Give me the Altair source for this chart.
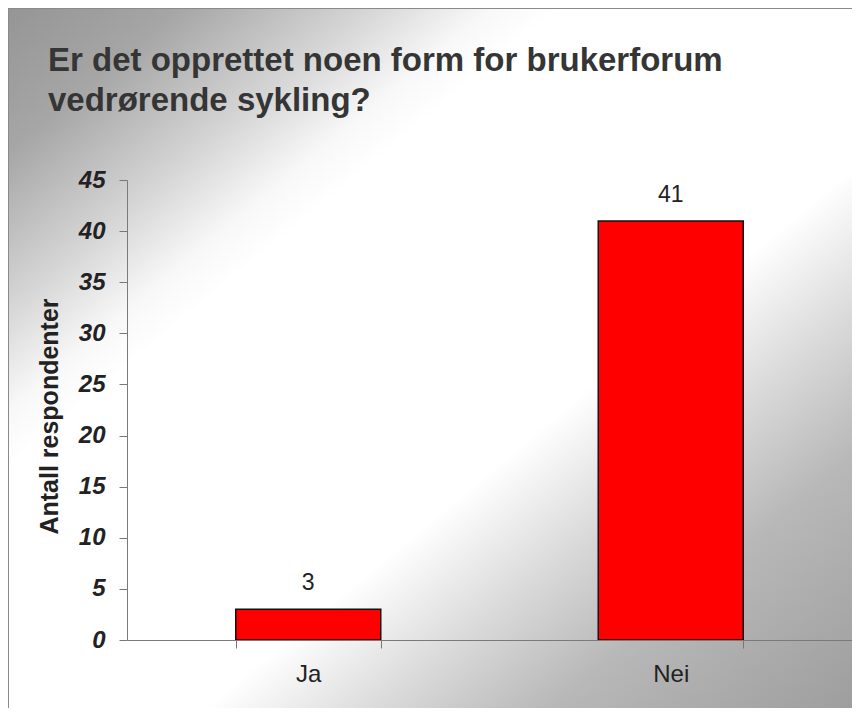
import altair as alt
import pandas as pd

categories = ["Ja", "Nei"]
values = [3, 41]
y_ticks = [0, 5, 10, 15, 20, 25, 30, 35, 40, 45]
title_lines = ["Er det opprettet noen form for brukerforum", "vedrørende sykling?"]
y_title = "Antall respondenter"

df = pd.DataFrame({"svar": categories, "antall": values})

FONT = "Liberation Sans"

gradient = alt.LinearGradient(
    gradient="linear",
    x1=0, y1=0, x2=1, y2=1,
    stops=[
        alt.GradientStop(offset=0.0, color="#959595"),
        alt.GradientStop(offset=0.10, color="#a6a6a6"),
        alt.GradientStop(offset=0.21, color="#d6d6d6"),
        alt.GradientStop(offset=0.28, color="#f8f8f8"),
        alt.GradientStop(offset=0.32, color="#ffffff"),
        alt.GradientStop(offset=0.60, color="#ffffff"),
        alt.GradientStop(offset=0.70, color="#dadada"),
        alt.GradientStop(offset=0.80, color="#b8b8b8"),
        alt.GradientStop(offset=1.0, color="#9a9a9a"),
    ],
)

background = alt.Chart(alt.Data(values=[{}])).mark_rect(
    fill=gradient, stroke="#8a8a8a", strokeWidth=2, clip=False
).encode(
    x=alt.value(-119), x2=alt.value(745),
    y=alt.value(-172), y2=alt.value(548),
)

x_enc = alt.X(
    "svar:N",
    sort=categories,
    title=None,
    scale=alt.Scale(paddingInner=0.6, paddingOuter=0.3),
    axis=alt.Axis(
        zindex=1,
        labelAngle=0,
        labelFont=FONT,
        labelFontSize=24,
        labelColor="#222222",
        labelPadding=14,
        tickBand="extent",
        tickSize=8,
        tickColor="#777777",
        domainColor="#7a7a7a",
        grid=False,
    ),
)

y_enc = alt.Y(
    "antall:Q",
    scale=alt.Scale(domain=[0, 45], nice=False),
    axis=alt.Axis(
        zindex=1,
        values=y_ticks,
        title=y_title,
        titleFont=FONT,
        titleFontSize=25,
        titleFontWeight="bold",
        titleColor="#222222",
        titleX=-65,
        titleY=236,
        titleBaseline="bottom",
        labelFont=FONT,
        labelFontSize=24,
        labelFontWeight="bold",
        labelFontStyle="italic",
        labelColor="#222222",
        labelPadding=14,
        tickSize=8,
        tickColor="#777777",
        domainColor="#7a7a7a",
        grid=False,
    ),
)

bars = alt.Chart(df).mark_bar(
    color="#ff0000", stroke="#111111", strokeWidth=1.5
).encode(x=x_enc, y=y_enc)

labels = alt.Chart(df).mark_text(
    baseline="alphabetic", dy=-19, font=FONT, fontSize=23, color="#222222"
).encode(
    x=alt.X("svar:N", sort=categories),
    y=alt.Y("antall:Q"),
    text=alt.Text("antall:Q"),
)

chart = alt.layer(background, bars, labels).properties(
    width=725,
    height=460,
    padding={"left": 119, "top": 172, "right": 0, "bottom": 68},
    autosize=alt.AutoSizeParams(type="none"),
    title=alt.TitleParams(
        text=title_lines,
        anchor="start",
        frame="group",
        dx=-79,
        offset=-111,
        zindex=1,
        font=FONT,
        fontSize=33,
        fontWeight="bold",
        color="#353535",
        lineHeight=40,
    ),
).configure(background="white").configure_view(strokeOpacity=0)

chart.save("out.html", embed_options={"renderer": "svg", "actions": False})
